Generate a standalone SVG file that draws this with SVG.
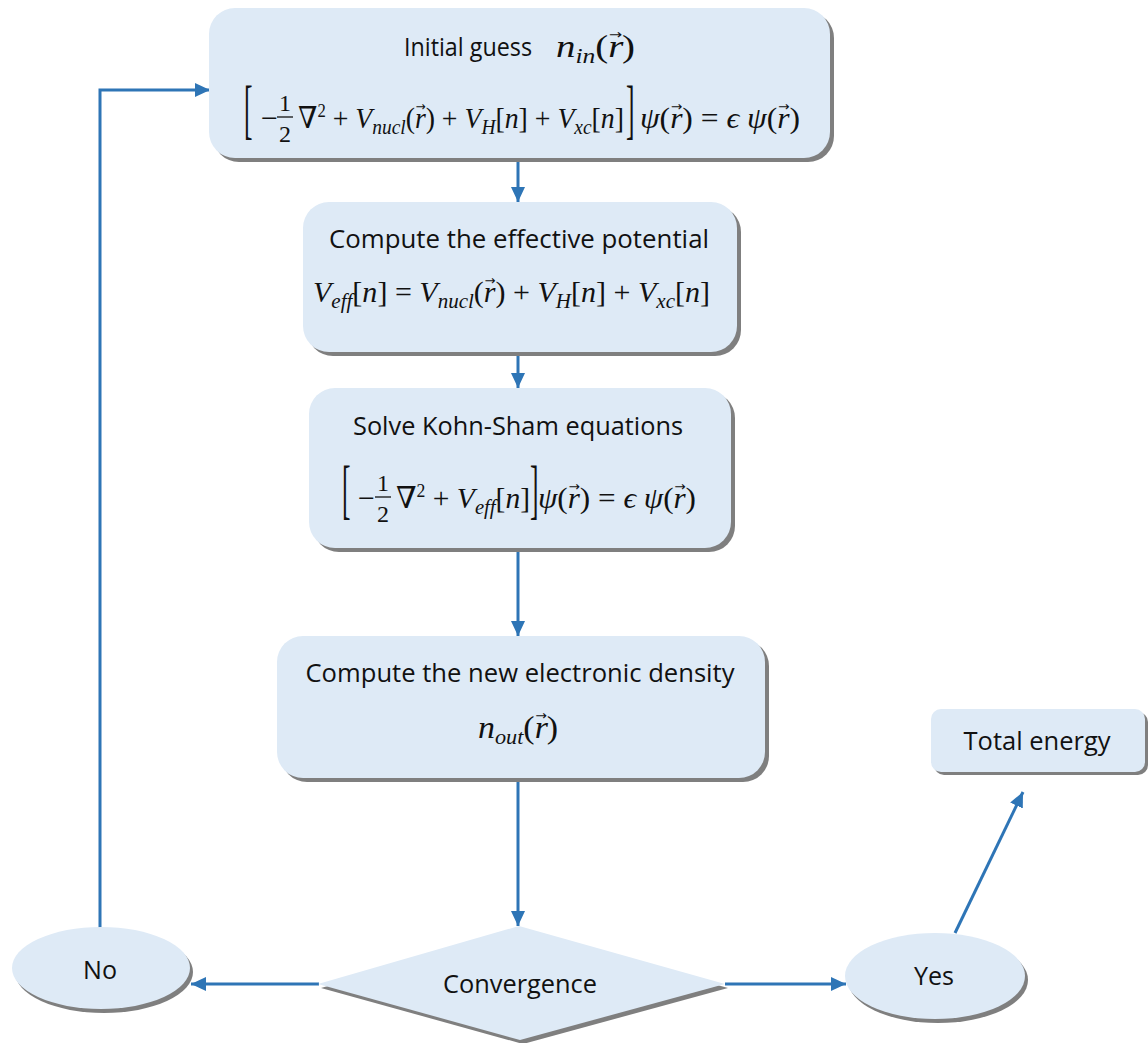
<svg xmlns="http://www.w3.org/2000/svg" width="1148" height="1043" viewBox="0 0 1148 1043">
<defs>
<style>
.box{fill:#DEEAF6;}
.sh{fill:#7F7F7F;}
.lbl{font-family:"Open Sans","Liberation Sans",sans-serif;font-size:25px;fill:#111;text-anchor:middle;}
.m{font-family:"Liberation Serif","DejaVu Serif",serif;font-size:30px;fill:#111;}
.big{font-size:32px;}
.i{font-style:italic;}
.sub{font-size:21px;font-style:italic;}
.va{font-family:"DejaVu Sans",sans-serif;font-size:13px;font-style:normal;}
.br{font-family:"Liberation Serif","DejaVu Serif",serif;font-size:34px;fill:#111;}
.c{fill:none;stroke:#2E75B6;stroke-width:3;}
</style>
<marker id="ah" markerUnits="userSpaceOnUse" markerWidth="16" markerHeight="14" refX="15" refY="7" orient="auto">
<path d="M0,0 L15,7 L0,14 Z" fill="#2E75B6"/>
</marker>
</defs>
<rect width="1148" height="1043" fill="#ffffff"/>

<g id="connectors">
<path class="c" d="M518,158 L518,202" marker-end="url(#ah)"/>
<path class="c" d="M518,355 L518,388" marker-end="url(#ah)"/>
<path class="c" d="M518,552 L518,636" marker-end="url(#ah)"/>
<path class="c" d="M518,782 L518,926" marker-end="url(#ah)"/>
<path class="c" d="M319,984 L191,984" marker-end="url(#ah)"/>
<path class="c" d="M100,933 L100,90 L210,90" marker-end="url(#ah)"/>
<path class="c" d="M725,984 L846,984" marker-end="url(#ah)"/>
<path class="c" d="M955,933 L1023,792" marker-end="url(#ah)"/>
</g>

<g id="initial-guess">
<rect class="sh" x="213" y="12" width="621" height="150" rx="26"/>
<rect class="box" x="209" y="8" width="621" height="150" rx="26"/>
<text class="lbl" x="468" y="56" textLength="128" lengthAdjust="spacingAndGlyphs">Initial guess</text>
<text class="m big" x="556" y="57" textLength="79" lengthAdjust="spacingAndGlyphs"><tspan class="i">n</tspan><tspan class="sub" dy="6">in</tspan><tspan dy="-6">(</tspan><tspan class="i">r</tspan><tspan class="va" dx="-12" dy="-18">→</tspan><tspan dy="18">)</tspan></text>
<text class="br" transform="translate(244,131) scale(0.75,1.95)">[</text>
<text class="m" x="261" y="128">−</text>
<text class="m" x="279" y="111" style="font-size:24px">1</text>
<line x1="277" y1="117" x2="293" y2="117" stroke="#111" stroke-width="1.3"/>
<text class="m" x="279" y="142" style="font-size:24px">2</text>
<text class="m" x="298" y="128" textLength="326" lengthAdjust="spacingAndGlyphs">∇<tspan dy="-11" style="font-size:18px">2</tspan><tspan dy="11"> + </tspan><tspan class="i">V</tspan><tspan class="sub" dy="6">nucl</tspan><tspan dy="-6">(</tspan><tspan class="i">r</tspan><tspan class="va" dx="-11" dy="-17">→</tspan><tspan dy="17">) + </tspan><tspan class="i">V</tspan><tspan class="sub" dy="6">H</tspan><tspan dy="-6">[</tspan><tspan class="i">n</tspan>] + <tspan class="i">V</tspan><tspan class="sub" dy="6">xc</tspan><tspan dy="-6">[</tspan><tspan class="i">n</tspan>]</text>
<text class="br" transform="translate(626,131) scale(0.75,1.95)">]</text>
<text class="m" x="640" y="128" textLength="160" lengthAdjust="spacingAndGlyphs"><tspan class="i">ψ</tspan>(<tspan class="i">r</tspan><tspan class="va" dx="-11" dy="-17">→</tspan><tspan dy="17">) = </tspan><tspan class="i">ϵ</tspan> <tspan class="i">ψ</tspan>(<tspan class="i">r</tspan><tspan class="va" dx="-11" dy="-17">→</tspan><tspan dy="17">)</tspan></text>
</g>

<g id="effective-potential">
<rect class="sh" x="307" y="206" width="434" height="150" rx="26"/>
<rect class="box" x="303" y="202" width="434" height="150" rx="26"/>
<text class="lbl" x="519" y="248" textLength="380" lengthAdjust="spacingAndGlyphs">Compute the effective potential</text>
<text class="m" x="313" y="302" textLength="397" lengthAdjust="spacingAndGlyphs"><tspan class="i">V</tspan><tspan class="sub" dy="6">eff</tspan><tspan dy="-6">[</tspan><tspan class="i">n</tspan>] = <tspan class="i">V</tspan><tspan class="sub" dy="6">nucl</tspan><tspan dy="-6">(</tspan><tspan class="i">r</tspan><tspan class="va" dx="-11" dy="-17">→</tspan><tspan dy="17">) + </tspan><tspan class="i">V</tspan><tspan class="sub" dy="6">H</tspan><tspan dy="-6">[</tspan><tspan class="i">n</tspan>] + <tspan class="i">V</tspan><tspan class="sub" dy="6">xc</tspan><tspan dy="-6">[</tspan><tspan class="i">n</tspan>]</text>
</g>

<g id="kohn-sham">
<rect class="sh" x="313" y="392" width="422" height="160" rx="26"/>
<rect class="box" x="309" y="388" width="422" height="160" rx="26"/>
<text class="lbl" x="518" y="435" textLength="330" lengthAdjust="spacingAndGlyphs">Solve Kohn-Sham equations</text>
<text class="br" transform="translate(342,511) scale(0.75,1.95)">[</text>
<text class="m" x="358" y="508">−</text>
<text class="m" x="377" y="491" style="font-size:24px">1</text>
<line x1="375" y1="497" x2="391" y2="497" stroke="#111" stroke-width="1.3"/>
<text class="m" x="377" y="522" style="font-size:24px">2</text>
<text class="m" x="396" y="508" textLength="134" lengthAdjust="spacingAndGlyphs">∇<tspan dy="-11" style="font-size:18px">2</tspan><tspan dy="11"> + </tspan><tspan class="i">V</tspan><tspan class="sub" dy="6">eff</tspan><tspan dy="-6">[</tspan><tspan class="i">n</tspan>]</text>
<text class="br" transform="translate(530,511) scale(0.75,1.95)">]</text>
<text class="m" x="538" y="508" textLength="158" lengthAdjust="spacingAndGlyphs"><tspan class="i">ψ</tspan>(<tspan class="i">r</tspan><tspan class="va" dx="-11" dy="-17">→</tspan><tspan dy="17">) = </tspan><tspan class="i">ϵ</tspan> <tspan class="i">ψ</tspan>(<tspan class="i">r</tspan><tspan class="va" dx="-11" dy="-17">→</tspan><tspan dy="17">)</tspan></text>
</g>

<g id="new-density">
<rect class="sh" x="281" y="640" width="488" height="142" rx="26"/>
<rect class="box" x="277" y="636" width="488" height="142" rx="26"/>
<text class="lbl" x="520" y="682" textLength="429" lengthAdjust="spacingAndGlyphs">Compute the new electronic density</text>
<text class="m big" x="478" y="738" textLength="80" lengthAdjust="spacingAndGlyphs"><tspan class="i">n</tspan><tspan class="sub" dy="6">out</tspan><tspan dy="-6">(</tspan><tspan class="i">r</tspan><tspan class="va" dx="-12" dy="-18">→</tspan><tspan dy="18">)</tspan></text>
</g>

<g id="total-energy">
<rect class="sh" x="934" y="712" width="214" height="63" rx="10"/>
<rect class="box" x="931" y="709" width="214" height="63" rx="10"/>
<text class="lbl" x="1037" y="750" textLength="147" lengthAdjust="spacingAndGlyphs">Total energy</text>
</g>

<g id="convergence">
<polygon class="sh" points="522,930 728,988 523,1044 321,988"/>
<polygon class="box" points="519,926 725,984 520,1040 318,984"/>
<text class="lbl" x="520" y="993" textLength="154" lengthAdjust="spacingAndGlyphs">Convergence</text>
</g>

<g id="no">
<ellipse class="sh" cx="104" cy="972" rx="89" ry="41"/>
<ellipse class="box" cx="101" cy="968" rx="89" ry="41"/>
<text class="lbl" x="100" y="979" textLength="34" lengthAdjust="spacingAndGlyphs">No</text>
</g>

<g id="yes">
<ellipse class="sh" cx="938" cy="980" rx="90" ry="43"/>
<ellipse class="box" cx="935" cy="976" rx="90" ry="43"/>
<text class="lbl" x="934" y="985" textLength="40" lengthAdjust="spacingAndGlyphs">Yes</text>
</g>
</svg>
